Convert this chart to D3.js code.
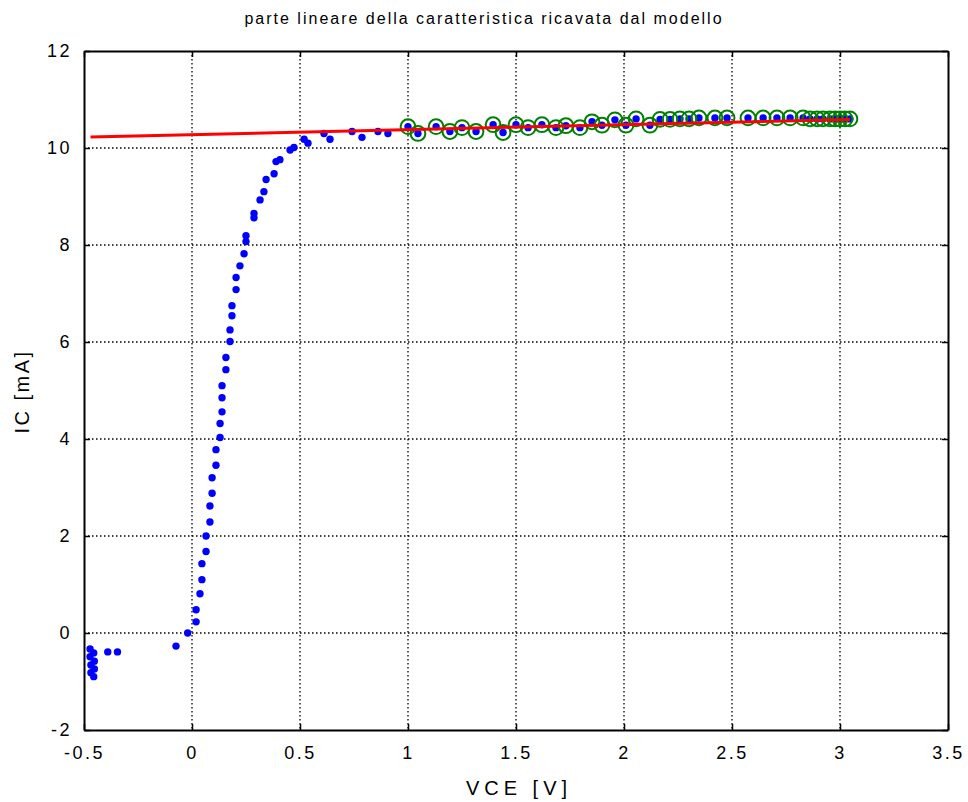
<!DOCTYPE html>
<html>
<head>
<meta charset="utf-8">
<script src="https://cdn.jsdelivr.net/npm/d3@7"></script>
<style>
  body { margin: 0; background: #fff; }
  svg text { font-family: "Liberation Sans", Arial, sans-serif; fill: #000; }
  .grid line { stroke: #000; stroke-width: 1.3; stroke-dasharray: 1.5 2.5; }
</style>
</head>
<body>
<svg width="968" height="802"></svg>
<script>
// measured points (VCE [V], IC [mA])
var vce = [-0.472, -0.455, -0.472, -0.452, -0.468, -0.452, -0.468, -0.455,
  -0.390, -0.345, -0.074, -0.020, 0.019, 0.019, 0.037, 0.046, 0.046, 0.065, 0.065,
  0.083, 0.083, 0.093, 0.093, 0.111, 0.111, 0.130, 0.130, 0.139, 0.139, 0.139,
  0.157, 0.157, 0.176, 0.176, 0.185, 0.185, 0.204, 0.204, 0.222, 0.241, 0.250, 0.250,
  0.287, 0.287, 0.315, 0.333, 0.343, 0.380, 0.389, 0.407, 0.454, 0.472,
  0.519, 0.537, 0.611, 0.639, 0.741, 0.787, 0.861, 0.907,
  1.000, 1.046, 1.130, 1.194, 1.250, 1.315, 1.394, 1.440, 1.500, 1.556,
  1.620, 1.685, 1.731, 1.796, 1.852, 1.898, 1.958, 2.009, 2.056, 2.120,
  2.167, 2.213, 2.259, 2.301, 2.347, 2.421, 2.477, 2.574, 2.644, 2.708,
  2.769, 2.829, 2.861, 2.894, 2.921, 2.954, 2.977, 3.000, 3.023, 3.046];
var ic = [-0.33, -0.41, -0.49, -0.58, -0.66, -0.74, -0.82, -0.90,
  -0.39, -0.39, -0.27, 0.00, 0.23, 0.48, 0.81, 1.10, 1.43, 1.68, 2.00,
  2.29, 2.62, 2.88, 3.20, 3.46, 3.78, 4.03, 4.32, 4.56, 4.85, 5.10,
  5.43, 5.68, 6.01, 6.25, 6.54, 6.75, 7.08, 7.33, 7.57, 7.82, 8.07, 8.19,
  8.56, 8.65, 8.93, 9.10, 9.35, 9.47, 9.72, 9.76, 9.96, 10.01,
  10.18, 10.10, 10.30, 10.18, 10.34, 10.22, 10.34, 10.30,
  10.44, 10.30, 10.44, 10.34, 10.42, 10.34, 10.48, 10.32, 10.48, 10.42,
  10.48, 10.42, 10.46, 10.42, 10.54, 10.47, 10.58, 10.47, 10.60, 10.47,
  10.59, 10.59, 10.60, 10.60, 10.62, 10.62, 10.62, 10.62, 10.62, 10.62,
  10.62, 10.62, 10.60, 10.60, 10.60, 10.60, 10.60, 10.60, 10.60, 10.60];

// points used for the linear part (VCE >= 1 V)
var linStart = 1.0;

// model line end points
var fitVce = [-0.47, 3.046];
var fitIc = [10.225, 10.59];

var xTicks = [-0.5, 0, 0.5, 1, 1.5, 2, 2.5, 3, 3.5];
var yTicks = [-2, 0, 2, 4, 6, 8, 10, 12];

var title = "parte lineare della caratteristica ricavata dal modello";
var xLabel = "VCE [V]";
var yLabel = "IC [mA]";

var svg = d3.select("svg");
var pl = 84, pr = 948, pt = 51, pb = 730;

var x = d3.scaleLinear().domain([-0.5, 3.5]).range([pl, pr]);
var y = d3.scaleLinear().domain([-2, 12]).range([pb, pt]);

// grid
var grid = svg.append("g").classed("grid", true);
grid.selectAll("line.vx")
  .data(xTicks.slice(1, -1))
  .enter().append("line")
  .attr("x1", d => x(d)).attr("x2", d => x(d))
  .attr("y1", pt).attr("y2", pb);
grid.selectAll("line.hy")
  .data(yTicks.slice(1, -1))
  .enter().append("line")
  .attr("y1", d => y(d)).attr("y2", d => y(d))
  .attr("x1", pl).attr("x2", pr);

// axes (ticks pointing inward on all four sides)
function fmt(d) { return String(d); }
var axB = svg.append("g").attr("transform", "translate(0," + pb + ")")
  .call(d3.axisBottom(x).tickValues(xTicks).tickSizeInner(-6).tickSizeOuter(0).tickPadding(16).tickFormat(fmt));
var axT = svg.append("g").attr("transform", "translate(0," + pt + ")")
  .call(d3.axisTop(x).tickValues(xTicks).tickSizeInner(-6).tickSizeOuter(0).tickFormat(""));
var axL = svg.append("g").attr("transform", "translate(" + pl + ",0)")
  .call(d3.axisLeft(y).tickValues(yTicks).tickSizeInner(-6).tickSizeOuter(0).tickPadding(12).tickFormat(fmt));
var axR = svg.append("g").attr("transform", "translate(" + pr + ",0)")
  .call(d3.axisRight(y).tickValues(yTicks).tickSizeInner(-6).tickSizeOuter(0).tickFormat(""));

[axB, axT, axL, axR].forEach(function(a) {
  a.select(".domain").attr("stroke", "#000").attr("stroke-width", 2);
  a.selectAll(".tick line").attr("stroke", "#000").attr("stroke-width", 1.5);
  a.selectAll("text").attr("font-size", 18).attr("letter-spacing", 2.5)
    .attr("font-family", "Liberation Sans, Arial, sans-serif").attr("fill", "#000");
});
axB.selectAll("text").attr("dy", "0.71em");

// data
var pts = vce.map((v, i) => ({ v: v, c: ic[i] }));

svg.append("g").selectAll("circle")
  .data(pts)
  .enter().append("circle")
  .attr("cx", d => x(d.v)).attr("cy", d => y(d.c))
  .attr("r", 3.7).attr("fill", "#0000ff");

svg.append("g").selectAll("circle")
  .data(pts.filter(d => d.v >= linStart))
  .enter().append("circle")
  .attr("cx", d => x(d.v)).attr("cy", d => y(d.c))
  .attr("r", 7.4).attr("fill", "none")
  .attr("stroke", "#008000").attr("stroke-width", 2);

var line = d3.line().x(d => x(d[0])).y(d => y(d[1]));
svg.append("path")
  .datum(fitVce.map((v, i) => [v, fitIc[i]]))
  .attr("d", line)
  .attr("fill", "none").attr("stroke", "#ff0000").attr("stroke-width", 3);

// labels
svg.append("text").attr("x", 484).attr("y", 24)
  .attr("text-anchor", "middle").attr("font-size", 16).attr("letter-spacing", 2)
  .text(title);
svg.append("text").attr("x", (pl + pr) / 2 + 3).attr("y", 795)
  .attr("text-anchor", "middle").attr("font-size", 20).attr("letter-spacing", 5)
  .text(xLabel);
svg.append("text")
  .attr("transform", "translate(29," + ((pt + pb) / 2 + 1) + ") rotate(-90)")
  .attr("text-anchor", "middle").attr("font-size", 20).attr("letter-spacing", 2.5)
  .text(yLabel);
</script>
</body>
</html>
